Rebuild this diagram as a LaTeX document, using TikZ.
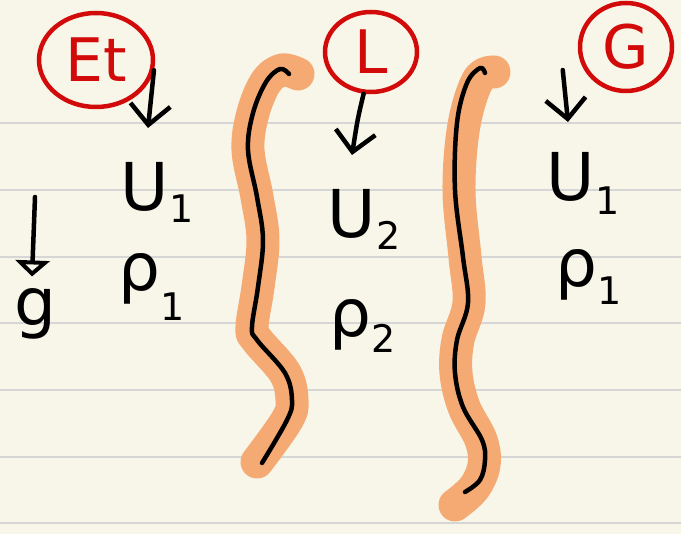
\documentclass[tikz,border=0pt]{standalone}
\usepackage{fontspec}
\setmainfont{DejaVu Sans}
\usetikzlibrary{arrows.meta,shapes.geometric,calc}
\definecolor{paper}{HTML}{F8F6E9}
\definecolor{rulegrey}{HTML}{D6D6D6}
\definecolor{wallorange}{HTML}{F5AA73}
\definecolor{inkred}{HTML}{D20A0A}
\newcommand{\lowsub}[2]{\raisebox{#1}{\fontsize{38}{38}\selectfont #2}}
\begin{document}
\begin{tikzpicture}[x=1pt,y=-1pt,
  ruled/.style={draw=rulegrey,line width=2pt},
  wall/.style={draw=wallorange,line width=33pt,line cap=round,line join=round},
  wallline/.style={draw=black,line width=4.5pt,line cap=round,line join=round},
  tag/.style={ellipse,draw=inkred,line width=4.5pt,text=inkred,inner sep=0pt,font=\fontsize{60}{60}\selectfont},
  sym/.style={inner sep=0pt,font=\fontsize{66}{66}\selectfont},
  arr/.style={draw=black,line width=4.5pt,line cap=round,-{Straight Barb[length=20pt,width=40pt]}},
  garr/.style={draw=black,line width=4.5pt,line cap=round,-{Triangle[open,length=16pt,width=34pt]}},
]
\fill[paper] (0,0) rectangle (681,534);
\useasboundingbox (0,0) rectangle (681,534);
\foreach \yy in {123.3,190,256.7,323.3,390,456.7,523.3} \draw[ruled] (0,\yy) -- (681,\yy);

% orange walls with black lines
\draw[wall] plot[smooth,tension=0.6] coordinates {(298,74) (282,70) (266,82) (253,113) (248,150) (257,197) (263,240) (258,287) (252,327) (257,340) (285,373) (292,400) (287,420) (257,462)};
\draw[wallline] plot[smooth,tension=0.6] coordinates {(289,74) (280,69) (266,82) (253,113) (248,150) (257,197) (263,240) (258,287) (252,327) (257,340) (285,373) (292,400) (287,420) (262,463)};
\draw[wall] plot[smooth,tension=0.6] coordinates {(494,72) (478,80) (464,125) (459,190) (465,257) (469,303) (458,340) (456,373) (464,407) (481,440) (484,465) (474,488) (455,505)};
\draw[wallline] plot[smooth,tension=0.6] coordinates {(485,73) (480,68) (467,83) (457,123) (455,190) (463,257) (468,303) (457,340) (455,373) (463,407) (482,440) (485,460) (480,480) (465,492)};

% circled labels
\node[tag,minimum width=114pt,minimum height=94pt] (e1) at (96,60) {Et};
\node[tag,minimum width=92pt,minimum height=80pt] (l2) at (371,52) {L};
\node[tag,minimum width=92pt,minimum height=88pt] (g3) at (626,47) {G};

% quantities
\node[sym] (u1l) at (157,192) {U\lowsub{-12pt}{1}};
\node[sym] (r1l) at (152,287) {ρ\lowsub{-30pt}{1}};
\node[sym] (u2) at (364,219) {U\lowsub{-12pt}{2}};
\node[sym] (r2) at (363,326) {ρ\lowsub{-16pt}{2}};
\node[sym] (u1r) at (583,183) {U\lowsub{-14pt}{1}};
\node[sym] (r1r) at (589,277) {ρ\lowsub{-18pt}{1}};
\node[sym] (gsym) at (35,314) {g};

% arrows
\coordinate (t1) at (148,128);
\coordinate (t2) at (352,155);
\coordinate (t3) at (568,122);
\draw[arr] (e1.-10) -- (t1);
\draw[arr] (l2.-100) .. controls ($(l2.-100)+(-6,25)$) .. (t2);
\draw[arr] ($(g3.west)+(-15,23)$) -- (t3);
\coordinate (ga) at (35,197);
\draw[garr] (ga) -- ($(gsym.north)+(-3,-12)$);
\end{tikzpicture}
\end{document}
